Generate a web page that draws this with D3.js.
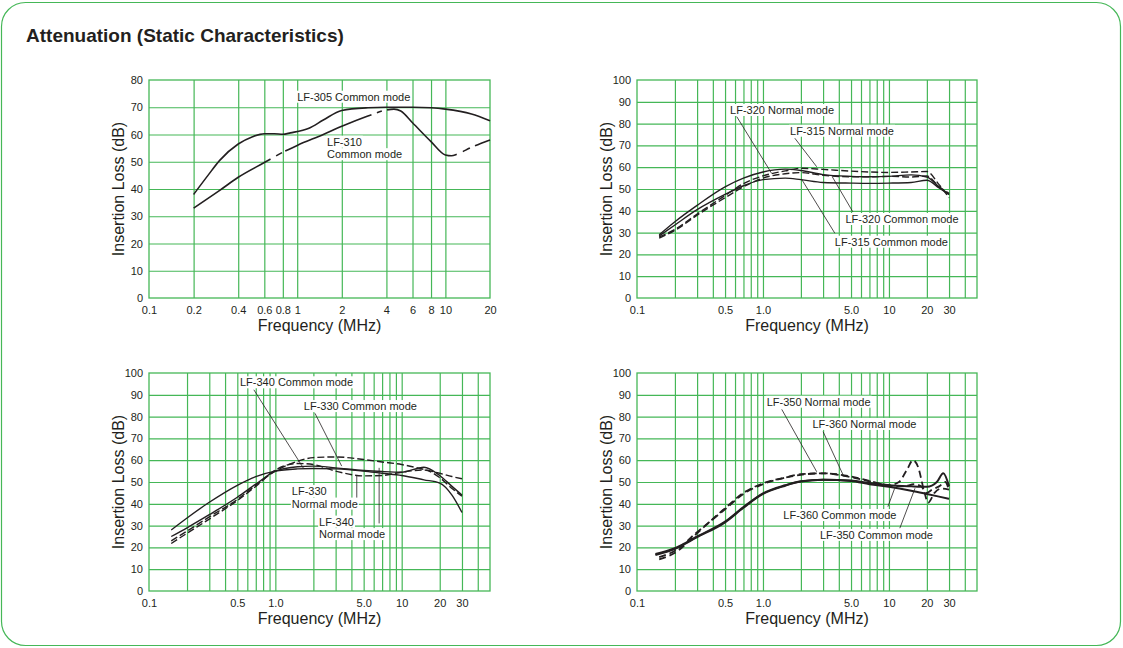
<!DOCTYPE html>
<html>
<head>
<meta charset="utf-8">
<script src="https://cdn.jsdelivr.net/npm/d3@7"></script>
<style>
  body { margin: 0; background: #fff; }
  svg text { font-family: "Liberation Sans", Arial, sans-serif; fill: #231f20; }
  .grid line { stroke: #45b757; stroke-width: 1.2; }
  .axis text { font-size: 11px; }
  .curve { fill: none; stroke: #231f20; }
  .leader { stroke: #231f20; stroke-width: 0.8; }
  .note { font-size: 11px; }
  .title { font-size: 16px; }
</style>
</head>
<body>
<svg id="chart" width="1123" height="648"></svg>
<script>
// ---- data ----
var yTicks80 = [0, 10, 20, 30, 40, 50, 60, 70, 80];
var yTicks100 = [0, 10, 20, 30, 40, 50, 60, 70, 80, 90, 100];

var freqTicks1 = [0.1, 0.2, 0.4, 0.6, 0.8, 1, 2, 4, 6, 8, 10, 20];
var freqLabels1 = ["0.1", "0.2", "0.4", "0.6", "0.8", "1", "2", "4", "6", "8", "10", "20"];
var freqGrid1 = [0.2, 0.4, 0.6, 0.8, 1, 2, 4, 6, 8, 10];

var freqTicks = [0.1, 0.5, 1, 5, 10, 20, 30];
var freqLabels = ["0.1", "0.5", "1.0", "5.0", "10", "20", "30"];
var freqGrid = [0.2, 0.3, 0.4, 0.5, 0.6, 0.7, 0.8, 0.9, 1, 2, 3, 4, 5, 6, 7, 8, 9, 10, 20, 30, 40];

// chart 1
var lf305Freq = [0.2, 0.25, 0.3, 0.4, 0.5, 0.6, 0.7, 0.8, 0.9, 1.2, 1.5, 2, 3, 4, 6, 8, 10, 15, 20];
var lf305Loss = [38, 45, 50.5, 56.5, 59.2, 60.3, 60.3, 60.1, 60.6, 62.3, 65.3, 68.8, 69.8, 70, 70, 69.8, 69.3, 67.5, 65];
var lf310Freq = [0.2, 0.3, 0.4, 0.6, 0.8, 1, 1.5, 2, 3, 4, 4.5, 5, 6, 8, 10, 11, 12, 15, 20];
var lf310Loss = [33, 39.5, 44.3, 49.7, 53.5, 56, 60, 63, 66.8, 69, 69.3, 68.6, 64.3, 57.4, 52.5, 52.2, 52.8, 55.3, 58];
// where the LF-310 dash-dot line breaks (MHz)
var lf310Breaks = [0.66, 0.72, 0.79, 0.83, 3.17, 3.45, 3.72, 4.04, 11.9, 13.1, 14.6, 15.8];

// chart 2
var c2Freq = [0.15, 0.2, 0.3, 0.5, 0.7, 1, 1.5, 2, 3, 5, 7, 10, 15, 20, 25, 30];
var lf320Normal = [29, 35, 42.5, 51, 55, 57.8, 59.1, 58.5, 56.6, 55.8, 55.6, 55.8, 56.5, 55.5, 51, 47.5];
var lf315Normal = [28.5, 33.5, 40.5, 47.5, 51.5, 54.3, 55, 54.3, 53, 52.7, 52.6, 52.7, 53, 54, 50.5, 47.5];
var lf320Common = [28, 31.5, 38.5, 47, 52.5, 56, 58.3, 59.5, 59, 58.2, 57.8, 57.6, 57.8, 58, 52, 46];
var lf315Common = [27.5, 31, 38, 46, 51, 55, 57, 57.5, 56.3, 55.6, 55.6, 55.8, 55.5, 56, 51, 48];

// chart 3
var c3Freq = [0.15, 0.2, 0.3, 0.5, 0.7, 1, 1.5, 2, 3, 5, 7, 10, 15, 20, 25, 30];
var lf330Normal = [28, 33.5, 40.7, 48.5, 52.5, 55, 56, 56.2, 56, 55, 54, 53, 51, 49.5, 44, 36];
var lf340Normal = [25, 29, 35, 43, 49, 55, 57, 57.3, 56.5, 55.3, 54.8, 54.5, 56.8, 53, 48, 44];
var lf330Common = [23, 27.5, 34, 42, 48.5, 55, 59.5, 61.2, 61.5, 60.3, 59.2, 58, 55.8, 54, 52.5, 51.5];
var lf340Common = [21.8, 26.5, 33, 41.5, 48, 55.5, 58.5, 58, 55, 52.8, 53, 54.5, 55.5, 52, 47, 43.5];

// chart 4
var lf360CommonFreq = [0.14, 0.2, 0.3, 0.5, 0.7, 1, 1.5, 2, 3, 5, 7, 10, 15, 20, 25, 30];
var lf360Common = [17, 19.6, 25, 31.8, 38.5, 44.8, 48.5, 50.3, 51, 50.5, 49, 47.8, 46, 44.5, 43.3, 42.3];
var lf350CommonFreq = [0.14, 0.2, 0.3, 0.5, 0.7, 1, 1.5, 2, 3, 5, 7, 10, 15, 20, 24, 27, 30];
var lf350Common = [16.5, 19.4, 24.7, 31.5, 38.2, 44.5, 48.3, 50.2, 51, 50.7, 49.5, 48.5, 48, 47.8, 50, 54, 48];
var lf350NormalFreq = [0.15, 0.2, 0.3, 0.5, 0.7, 1, 1.5, 2, 3, 5, 7, 10, 12, 14, 15.5, 17, 19, 20.5, 23, 26, 30];
var lf350Normal = [14.5, 17.5, 26.5, 38, 45, 49.4, 52, 53.3, 54, 52.5, 50.5, 48.5, 50, 56, 60, 57, 46, 40.5, 45, 47, 46.5];
var lf360NormalFreq = [0.15, 0.2, 0.3, 0.5, 0.7, 1, 1.5, 2, 3, 5, 7, 10, 13, 16, 18, 20, 22, 25, 28, 30];
var lf360Normal = [15.5, 18.5, 27, 37.5, 44.5, 49, 52, 53.6, 54, 52.2, 50.3, 48.3, 48, 49, 48, 45, 46.5, 48, 50, 46];

// ---- drawing ----
var svg = d3.select("#chart");

svg.append("rect")
  .attr("x", 1.5).attr("y", 2.5)
  .attr("width", 1119).attr("height", 643)
  .attr("rx", 24)
  .attr("fill", "none")
  .attr("stroke", "#45b757")
  .attr("stroke-width", 1.2);

svg.append("text")
  .attr("x", 26).attr("y", 42)
  .style("font-size", "19px")
  .style("font-weight", "bold")
  .text("Attenuation (Static Characteristics)");

function series(f, v, dash, width, breaks) {
  return { pts: d3.zip(f, v), dash: dash, width: width, breaks: breaks };
}

var panels = [
  {
    left: 149, top: 80, width: 341, height: 218,
    xDomain: [0.1, 20], yTicks: yTicks80,
    grid: freqGrid1, ticks: freqTicks1, labels: freqLabels1,
    lines: [
      series(lf305Freq, lf305Loss, null, 1.6),
      series(lf310Freq, lf310Loss, null, 1.6, lf310Breaks)
    ],
    notes: [
      { text: ["LF-305 Common mode"], at: [1.0, 72.4] },
      { text: ["LF-310", "Common mode"], at: [1.59, 55.9] }
    ]
  },
  {
    left: 637, top: 80, width: 340, height: 218,
    xDomain: [0.1, 50], yTicks: yTicks100,
    grid: freqGrid, ticks: freqTicks, labels: freqLabels,
    lines: [
      series(c2Freq, lf320Normal, null, 1.4),
      series(c2Freq, lf315Normal, null, 1.4),
      series(c2Freq, lf320Common, "7,3", 1.4),
      series(c2Freq, lf315Common, "7,3", 1.4)
    ],
    notes: [
      { text: ["LF-320 Normal mode"], at: [0.548, 84.4], leader: [[0.619, 83.2], [1.17, 57.2]] },
      { text: ["LF-315 Normal mode"], at: [1.64, 74.9], leader: [[1.79, 73.3], [2.67, 60.2]] },
      { text: ["LF-320 Common mode"], at: [4.52, 34.4], leader: [[5.16, 39.6], [3.55, 55.6]] },
      { text: ["LF-315 Common mode"], at: [3.72, 24], leader: [[3.72, 29.7], [2.02, 54.6]] }
    ]
  },
  {
    left: 149, top: 373, width: 341, height: 218,
    xDomain: [0.1, 50], yTicks: yTicks100,
    grid: freqGrid, ticks: freqTicks, labels: freqLabels,
    lines: [
      series(c3Freq, lf330Normal, null, 1.4),
      series(c3Freq, lf340Normal, null, 1.4),
      series(c3Freq, lf330Common, "7,3", 1.4),
      series(c3Freq, lf340Common, "7,3", 1.4)
    ],
    notes: [
      { text: ["LF-340 Common mode"], at: [0.525, 93.9], leader: [[0.676, 92.3], [1.67, 56.3]] },
      { text: ["LF-330 Common mode"], at: [1.68, 83], leader: [[2.06, 81.5], [3.35, 57.3]] },
      { text: ["LF-330", "Normal mode"], at: [1.35, 44], leader: [[4.41, 42.5], [4.41, 53.2]] },
      { text: ["LF-340", "Normal mode"], at: [2.22, 30], leader: [[6.63, 31], [6.63, 56.5]] }
    ]
  },
  {
    left: 637, top: 373, width: 340, height: 218,
    xDomain: [0.1, 50], yTicks: yTicks100,
    grid: freqGrid, ticks: freqTicks, labels: freqLabels,
    lines: [
      series(lf360CommonFreq, lf360Common, null, 2),
      series(lf350CommonFreq, lf350Common, null, 2),
      series(lf350NormalFreq, lf350Normal, "7,4", 1.8),
      series(lf360NormalFreq, lf360Normal, "7,4", 1.8)
    ],
    notes: [
      { text: ["LF-350 Normal mode"], at: [1.07, 85], leader: [[1.41, 83.3], [2.67, 54.7]] },
      { text: ["LF-360 Normal mode"], at: [2.47, 74.8], leader: [[3.0, 73.1], [4.33, 53.2]] },
      { text: ["LF-360 Common mode"], at: [1.45, 33], leader: [[9.81, 38.7], [11.1, 47.1]] },
      { text: ["LF-350 Common mode"], at: [2.83, 23.9], leader: [[12.2, 28.8], [16.1, 47.1]] }
    ]
  }
];

// length along a path where it reaches screen x = px
function lengthAtX(node, px) {
  var lo = 0, hi = node.getTotalLength();
  for (var k = 0; k < 40; k++) {
    var mid = (lo + hi) / 2;
    if (node.getPointAtLength(mid).x < px) lo = mid; else hi = mid;
  }
  return (lo + hi) / 2;
}

function drawPanel(p) {
  var bottom = p.top + p.height;
  var right = p.left + p.width;
  var yMax = p.yTicks[p.yTicks.length - 1];

  var x = d3.scaleLog().domain(p.xDomain).range([p.left, right]);
  var y = d3.scaleLinear().domain([0, yMax]).range([bottom, p.top]);

  var g = svg.append("g");

  // grid
  g.append("g").attr("class", "grid")
    .attr("transform", "translate(0," + bottom + ")")
    .call(d3.axisBottom(x).tickValues(p.grid).tickSize(-p.height).tickFormat(""))
    .call(function (a) { a.select(".domain").remove(); });

  g.append("g").attr("class", "grid")
    .attr("transform", "translate(" + p.left + ",0)")
    .call(d3.axisLeft(y).tickValues(p.yTicks.slice(1, -1)).tickSize(-p.width).tickFormat(""))
    .call(function (a) { a.select(".domain").remove(); });

  g.append("rect")
    .attr("x", p.left).attr("y", p.top)
    .attr("width", p.width).attr("height", p.height)
    .attr("fill", "none").attr("stroke", "#45b757").attr("stroke-width", 1.3);

  // tick labels
  g.append("g").attr("class", "axis")
    .attr("transform", "translate(0," + bottom + ")")
    .call(d3.axisBottom(x).tickValues(p.ticks)
      .tickFormat(function (d, i) { return p.labels[i]; })
      .tickSize(0).tickPadding(8))
    .call(function (a) { a.select(".domain").remove(); });

  g.append("g").attr("class", "axis")
    .attr("transform", "translate(" + p.left + ",0)")
    .call(d3.axisLeft(y).tickValues(p.yTicks).tickSize(0).tickPadding(6))
    .call(function (a) { a.select(".domain").remove(); });

  // axis titles
  g.append("text").attr("class", "title")
    .attr("text-anchor", "middle")
    .attr("transform", "translate(" + (p.left - 25) + "," + (p.top + p.height / 2) + ") rotate(-90)")
    .text("Insertion Loss (dB)");

  g.append("text").attr("class", "title")
    .attr("text-anchor", "middle")
    .attr("x", (p.left + right) / 2).attr("y", bottom + 33)
    .text("Frequency (MHz)");

  // curves
  var line = d3.line()
    .x(function (d) { return x(d[0]); })
    .y(function (d) { return y(d[1]); })
    .curve(d3.curveMonotoneX);

  p.lines.forEach(function (s) {
    var path = g.append("path").attr("class", "curve")
      .attr("d", line(s.pts))
      .attr("stroke-width", s.width)
      .attr("stroke-dasharray", s.dash);
    if (s.breaks) {
      var node = path.node();
      var total = node.getTotalLength();
      var cuts = s.breaks.map(function (f) { return lengthAtX(node, x(f)); });
      var dash = [], prev = 0;
      cuts.forEach(function (c) { dash.push(c - prev); prev = c; });
      dash.push(total - prev + 1, 0);
      path.attr("stroke-dasharray", dash.join(","));
    }
  });

  // annotations
  p.notes.forEach(function (n) {
    if (n.leader) {
      g.append("line").attr("class", "leader")
        .attr("x1", x(n.leader[0][0])).attr("y1", y(n.leader[0][1]))
        .attr("x2", x(n.leader[1][0])).attr("y2", y(n.leader[1][1]));
    }
  });
  p.notes.forEach(function (n) {
    n.text.forEach(function (t, i) {
      var lg = g.append("g");
      var bg = lg.append("rect").attr("fill", "#fff");
      var txt = lg.append("text").attr("class", "note")
        .attr("x", x(n.at[0]))
        .attr("y", y(n.at[1]) + i * 12.5)
        .text(t);
      var b = txt.node().getBBox();
      bg.attr("x", b.x - 1).attr("y", b.y)
        .attr("width", b.width + 2).attr("height", b.height);
    });
  });
}

panels.forEach(drawPanel);
</script>
</body>
</html>
